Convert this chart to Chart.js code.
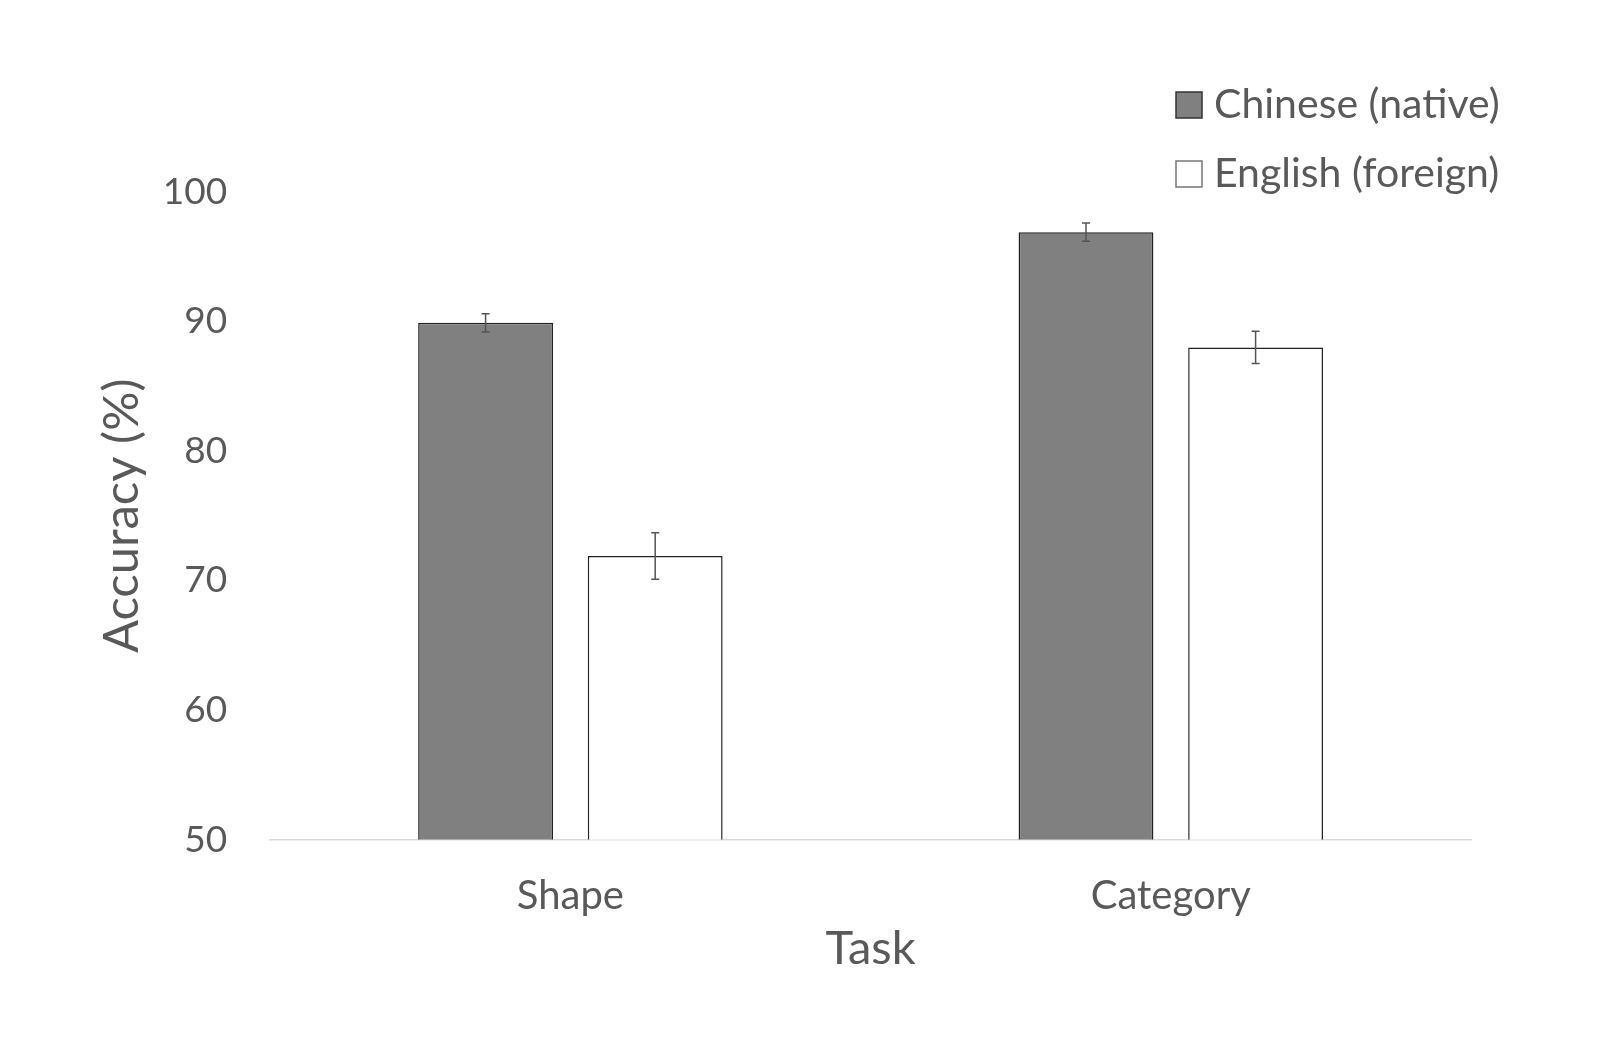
<!DOCTYPE html>
<html>
<head>
<meta charset="utf-8">
<script src="https://cdn.jsdelivr.net/npm/chart.js@4"></script>
<style>
  html, body { margin: 0; padding: 0; background: #fff; }
  #wrap { width: 1600px; height: 1053px; }
</style>
</head>
<body>
<div id="wrap"><canvas id="c" width="1600" height="1053"></canvas></div>
<script>
const categories = ["Shape", "Category"];
const seriesNames = ["Chinese (native)", "English (foreign)"];
const chineseValues = [89.9, 96.9];
const englishValues = [71.9, 88.0];
const chineseErrors = [0.7, 0.7];
const englishErrors = [1.8, 1.25];
const yTicks = [50, 60, 70, 80, 90, 100];

const FONT = "Lato, 'Open Sans', sans-serif";
const TXT = "#595959";

const errorBars = {
  id: 'errorBars',
  afterDatasetsDraw(chart) {
    const ctx = chart.ctx;
    const y = chart.scales.y;
    ctx.save();
    ctx.strokeStyle = '#555';
    ctx.lineWidth = 1.5;
    chart.data.datasets.forEach((ds, di) => {
      const meta = chart.getDatasetMeta(di);
      meta.data.forEach((bar, i) => {
        const v = ds.data[i], e = ds.errors[i];
        const x = bar.x;
        const top = y.getPixelForValue(v + e), bot = y.getPixelForValue(v - e);
        ctx.beginPath();
        ctx.moveTo(x, top); ctx.lineTo(x, bot);
        ctx.moveTo(x - 4, top); ctx.lineTo(x + 4, top);
        ctx.moveTo(x - 4, bot); ctx.lineTo(x + 4, bot);
        ctx.stroke();
      });
    });
    ctx.restore();
  }
};

const customLegend = {
  id: 'customLegend',
  afterDraw(chart) {
    const ctx = chart.ctx;
    ctx.save();
    ctx.font = "41px " + FONT;
    ctx.textBaseline = 'middle';
    ctx.textAlign = 'left';
    const x0 = 1176, ys = [105, 174], box = 26;
    chart.data.datasets.forEach((ds, i) => {
      const yy = ys[i];
      ctx.fillStyle = ds.backgroundColor;
      ctx.fillRect(x0, yy - box / 2, box, box);
      ctx.strokeStyle = i === 0 ? '#333' : '#777';
      ctx.lineWidth = 1.5;
      ctx.strokeRect(x0, yy - box / 2, box, box);
      ctx.fillStyle = TXT;
      ctx.fillText(ds.label, x0 + box + 12, yy);
    });
    ctx.restore();
  }
};

new Chart(document.getElementById('c'), {
  type: 'bar',
  data: {
    labels: categories,
    datasets: [
      { label: seriesNames[0], data: chineseValues, errors: chineseErrors,
        backgroundColor: '#808080', borderColor: '#222', borderWidth: 1.5 },
      { label: seriesNames[1], data: englishValues, errors: englishErrors,
        backgroundColor: '#ffffff', borderColor: '#222', borderWidth: 1.5 }
    ]
  },
  options: {
    responsive: false,
    animation: false,
    devicePixelRatio: 1,
    categoryPercentage: 0.565,
    barPercentage: 0.795,
    layout: { padding: { top: 192, left: 89, right: 129, bottom: 72 } },
    plugins: { legend: { display: false }, tooltip: { enabled: false } },
    scales: {
      x: {
        grid: { display: false, drawTicks: false },
        border: { display: true, color: '#d9d9d9', width: 1.5 },
        ticks: { color: TXT, font: { family: FONT, size: 40 }, padding: 32 },
        title: { display: true, text: 'Task', color: TXT, font: { family: FONT, size: 47 }, padding: { top: -31, bottom: 4 } }
      },
      y: {
        min: 50, max: 100,
        afterBuildTicks(axis) { axis.ticks = yTicks.map(v => ({ value: v })); },
        grid: { display: false, drawTicks: false },
        border: { display: false },
        ticks: { color: TXT, font: { family: FONT, size: 37 }, padding: 43 },
        title: { display: true, text: 'Accuracy (%)', color: TXT, font: { family: FONT, size: 49 }, padding: { top: 4, bottom: -32 } }
      }
    }
  },
  plugins: [errorBars, customLegend]
});
</script>
</body>
</html>
